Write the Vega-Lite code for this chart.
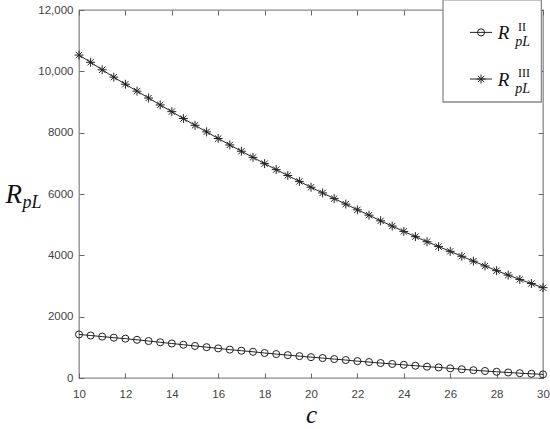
{
  "$schema": "https://vega.github.io/schema/vega-lite/v6.json",
  "width": 464,
  "height": 368,
  "autosize": {"type": "none"},
  "padding": {"left": 79, "top": 10, "right": 7, "bottom": 51},
  "background": "white",
  "config": {
    "view": {"stroke": "#8a8a8a", "strokeWidth": 1.3},
    "axis": {
      "domain": false,
      "grid": false,
      "labelFont": "Liberation Sans",
      "labelFontSize": 11.5,
      "labelColor": "#444444",
      "labelFlush": false,
      "titleFont": "Liberation Serif",
      "titleFontStyle": "italic",
      "titleFontWeight": "normal",
      "titleColor": "#111111"
    }
  },
  "datasets": {
    "curves": [
      {"c": 10, "R": 1420, "series": "II"}, {"c": 10.5, "R": 1385, "series": "II"}, {"c": 11, "R": 1350, "series": "II"}, {"c": 11.5, "R": 1315, "series": "II"},
      {"c": 12, "R": 1283, "series": "II"}, {"c": 12.5, "R": 1245, "series": "II"}, {"c": 13, "R": 1205, "series": "II"}, {"c": 13.5, "R": 1165, "series": "II"},
      {"c": 14, "R": 1125, "series": "II"}, {"c": 14.5, "R": 1085, "series": "II"}, {"c": 15, "R": 1045, "series": "II"}, {"c": 15.5, "R": 1005, "series": "II"},
      {"c": 16, "R": 965, "series": "II"}, {"c": 16.5, "R": 925, "series": "II"}, {"c": 17, "R": 890, "series": "II"}, {"c": 17.5, "R": 855, "series": "II"},
      {"c": 18, "R": 815, "series": "II"}, {"c": 18.5, "R": 780, "series": "II"}, {"c": 19, "R": 745, "series": "II"}, {"c": 19.5, "R": 713, "series": "II"},
      {"c": 20, "R": 680, "series": "II"}, {"c": 20.5, "R": 650, "series": "II"}, {"c": 21, "R": 617, "series": "II"}, {"c": 21.5, "R": 585, "series": "II"},
      {"c": 22, "R": 550, "series": "II"}, {"c": 22.5, "R": 520, "series": "II"}, {"c": 23, "R": 488, "series": "II"}, {"c": 23.5, "R": 458, "series": "II"},
      {"c": 24, "R": 430, "series": "II"}, {"c": 24.5, "R": 400, "series": "II"}, {"c": 25, "R": 370, "series": "II"}, {"c": 25.5, "R": 345, "series": "II"},
      {"c": 26, "R": 315, "series": "II"}, {"c": 26.5, "R": 285, "series": "II"}, {"c": 27, "R": 255, "series": "II"}, {"c": 27.5, "R": 228, "series": "II"},
      {"c": 28, "R": 203, "series": "II"}, {"c": 28.5, "R": 180, "series": "II"}, {"c": 29, "R": 157, "series": "II"}, {"c": 29.5, "R": 137, "series": "II"},
      {"c": 30, "R": 118, "series": "II"},
      {"c": 10, "R": 10530, "series": "III"}, {"c": 10.5, "R": 10295, "series": "III"}, {"c": 11, "R": 10050, "series": "III"}, {"c": 11.5, "R": 9810, "series": "III"},
      {"c": 12, "R": 9580, "series": "III"}, {"c": 12.5, "R": 9355, "series": "III"}, {"c": 13, "R": 9130, "series": "III"}, {"c": 13.5, "R": 8905, "series": "III"},
      {"c": 14, "R": 8685, "series": "III"}, {"c": 14.5, "R": 8460, "series": "III"}, {"c": 15, "R": 8240, "series": "III"}, {"c": 15.5, "R": 8025, "series": "III"},
      {"c": 16, "R": 7810, "series": "III"}, {"c": 16.5, "R": 7600, "series": "III"}, {"c": 17, "R": 7395, "series": "III"}, {"c": 17.5, "R": 7195, "series": "III"},
      {"c": 18, "R": 6990, "series": "III"}, {"c": 18.5, "R": 6795, "series": "III"}, {"c": 19, "R": 6605, "series": "III"}, {"c": 19.5, "R": 6410, "series": "III"},
      {"c": 20, "R": 6220, "series": "III"}, {"c": 20.5, "R": 6035, "series": "III"}, {"c": 21, "R": 5850, "series": "III"}, {"c": 21.5, "R": 5670, "series": "III"},
      {"c": 22, "R": 5485, "series": "III"}, {"c": 22.5, "R": 5310, "series": "III"}, {"c": 23, "R": 5125, "series": "III"}, {"c": 23.5, "R": 4955, "series": "III"},
      {"c": 24, "R": 4780, "series": "III"}, {"c": 24.5, "R": 4610, "series": "III"}, {"c": 25, "R": 4445, "series": "III"}, {"c": 25.5, "R": 4285, "series": "III"},
      {"c": 26, "R": 4130, "series": "III"}, {"c": 26.5, "R": 3970, "series": "III"}, {"c": 27, "R": 3810, "series": "III"}, {"c": 27.5, "R": 3655, "series": "III"},
      {"c": 28, "R": 3500, "series": "III"}, {"c": 28.5, "R": 3355, "series": "III"}, {"c": 29, "R": 3215, "series": "III"}, {"c": 29.5, "R": 3080, "series": "III"},
      {"c": 30, "R": 2945, "series": "III"}
    ],
    "one": [{}]
  },
  "resolve": {"axis": {"x": "independent", "y": "independent"}},
  "layer": [
    {
      "data": {"name": "curves"},
      "mark": {"type": "line", "color": "#222222", "strokeWidth": 1},
      "encoding": {
        "x": {"field": "c", "type": "quantitative", "scale": {"domain": [10, 30], "nice": false, "zero": false},
              "axis": {"orient": "bottom", "values": [10, 12, 14, 16, 18, 20, 22, 24, 26, 28, 30],
                       "ticks": true, "tickSize": 5, "tickColor": "#666666", "tickWidth": 1, "offset": -5, "labelPadding": 10,
                       "title": "c", "titleFontSize": 25, "titleY": 49, "titleBaseline": "alphabetic"}},
        "y": {"field": "R", "type": "quantitative", "scale": {"domain": [0, 12000], "nice": false},
              "axis": {"orient": "left", "values": [0, 2000, 4000, 6000, 8000, 10000, 12000],
                       "ticks": true, "tickSize": 5, "tickColor": "#666666", "tickWidth": 1, "offset": -5, "labelPadding": 6,
                       "labelExpr": "datum.value >= 10000 ? format(datum.value, ',') : format(datum.value, 'd')",
                       "title": "R", "titleFontSize": 27, "titleAngle": 0, "titleAlign": "left", "titleBaseline": "alphabetic",
                       "titleX": -79, "titleY": 192}},
        "detail": {"field": "series"}
      }
    },
    {
      "data": {"name": "curves"},
      "mark": {"type": "point", "filled": false, "stroke": "#222222", "strokeWidth": 1, "opacity": 1},
      "encoding": {
        "x": {"field": "c", "type": "quantitative",
              "axis": {"orient": "top", "values": [10, 12, 14, 16, 18, 20, 22, 24, 26, 28, 30], "labels": false, "title": null,
                       "ticks": true, "tickSize": 5, "tickColor": "#666666", "tickWidth": 1, "offset": -5}},
        "y": {"field": "R", "type": "quantitative",
              "axis": {"orient": "right", "values": [0, 2000, 4000, 6000, 8000, 10000, 12000], "labels": false,
                       "ticks": true, "tickSize": 5, "tickColor": "#666666", "tickWidth": 1, "offset": -5,
                       "title": "pL", "titleFontSize": 18, "titleAngle": 0, "titleAlign": "left", "titleBaseline": "alphabetic",
                       "titleX": -516, "titleY": 197}},
        "shape": {"field": "series", "type": "nominal", "legend": null,
                  "scale": {"domain": ["II", "III"], "range": ["circle", "M -1 0 L 1 0 M 0 -1 L 0 1 M -0.7 -0.7 L 0.7 0.7 M -0.7 0.7 L 0.7 -0.7"]}},
        "size": {"field": "series", "type": "nominal", "legend": null, "scale": {"domain": ["II", "III"], "range": [50, 80]}}
      }
    },
    {
      "data": {"name": "one"},
      "mark": {"type": "rect", "fill": "white", "stroke": "#8a8a8a", "strokeWidth": 1.3, "clip": false},
      "encoding": {
        "x": {"datum": 25.69, "type": "quantitative", "axis": null},
        "x2": {"datum": 29.93},
        "y": {"datum": 12330, "type": "quantitative", "axis": null},
        "y2": {"datum": 9000}
      }
    },
    {
      "data": {"name": "one"},
      "mark": {"type": "rule", "color": "#222222", "strokeWidth": 1},
      "encoding": {
        "x": {"datum": 26.85, "type": "quantitative", "axis": null},
        "x2": {"datum": 27.8},
        "y": {"datum": 11270, "type": "quantitative", "axis": null}
      }
    },
    {
      "data": {"name": "one"},
      "mark": {"type": "rule", "color": "#222222", "strokeWidth": 1},
      "encoding": {
        "x": {"datum": 26.85, "type": "quantitative", "axis": null},
        "x2": {"datum": 27.8},
        "y": {"datum": 9750, "type": "quantitative", "axis": null}
      }
    },
    {
      "data": {"name": "one"},
      "mark": {"type": "point", "shape": "circle", "filled": false, "stroke": "#222222", "strokeWidth": 1, "size": 50, "opacity": 1},
      "encoding": {
        "x": {"datum": 27.33, "type": "quantitative", "axis": null},
        "y": {"datum": 11270, "type": "quantitative", "axis": null}
      }
    },
    {
      "data": {"name": "one"},
      "mark": {"type": "point", "shape": "M -1 0 L 1 0 M 0 -1 L 0 1 M -0.7 -0.7 L 0.7 0.7 M -0.7 0.7 L 0.7 -0.7", "filled": false, "stroke": "#222222", "strokeWidth": 1, "size": 80, "opacity": 1},
      "encoding": {
        "x": {"datum": 27.33, "type": "quantitative", "axis": null},
        "y": {"datum": 9750, "type": "quantitative", "axis": null}
      }
    },
    {
      "data": {"name": "one"},
      "mark": {"type": "text", "text": "R", "font": "Liberation Serif", "fontStyle": "italic", "fontSize": 19, "align": "left", "baseline": "alphabetic", "color": "#111111"},
      "encoding": {
        "x": {"datum": 28.05, "type": "quantitative", "axis": null},
        "y": {"datum": 11050, "type": "quantitative", "axis": null}
      }
    },
    {
      "data": {"name": "one"},
      "mark": {"type": "text", "text": "R", "font": "Liberation Serif", "fontStyle": "italic", "fontSize": 19, "align": "left", "baseline": "alphabetic", "color": "#111111"},
      "encoding": {
        "x": {"datum": 28.05, "type": "quantitative", "axis": null},
        "y": {"datum": 9520, "type": "quantitative", "axis": null}
      }
    },
    {
      "data": {"name": "one"},
      "mark": {"type": "text", "text": "II", "font": "Liberation Serif", "fontSize": 12, "align": "left", "baseline": "alphabetic", "color": "#111111"},
      "encoding": {
        "x": {"datum": 28.92, "type": "quantitative", "axis": null},
        "y": {"datum": 11330, "type": "quantitative", "axis": null}
      }
    },
    {
      "data": {"name": "one"},
      "mark": {"type": "text", "text": "III", "font": "Liberation Serif", "fontSize": 12, "align": "left", "baseline": "alphabetic", "color": "#111111"},
      "encoding": {
        "x": {"datum": 28.92, "type": "quantitative", "axis": null},
        "y": {"datum": 9810, "type": "quantitative", "axis": null}
      }
    },
    {
      "data": {"name": "one"},
      "mark": {"type": "text", "text": "pL", "font": "Liberation Serif", "fontStyle": "italic", "fontSize": 14, "align": "left", "baseline": "alphabetic", "color": "#111111"},
      "encoding": {
        "x": {"datum": 28.8, "type": "quantitative", "axis": null},
        "y": {"datum": 10810, "type": "quantitative", "axis": null}
      }
    },
    {
      "data": {"name": "one"},
      "mark": {"type": "text", "text": "pL", "font": "Liberation Serif", "fontStyle": "italic", "fontSize": 14, "align": "left", "baseline": "alphabetic", "color": "#111111"},
      "encoding": {
        "x": {"datum": 28.8, "type": "quantitative", "axis": null},
        "y": {"datum": 9280, "type": "quantitative", "axis": null}
      }
    }
  ]
}
